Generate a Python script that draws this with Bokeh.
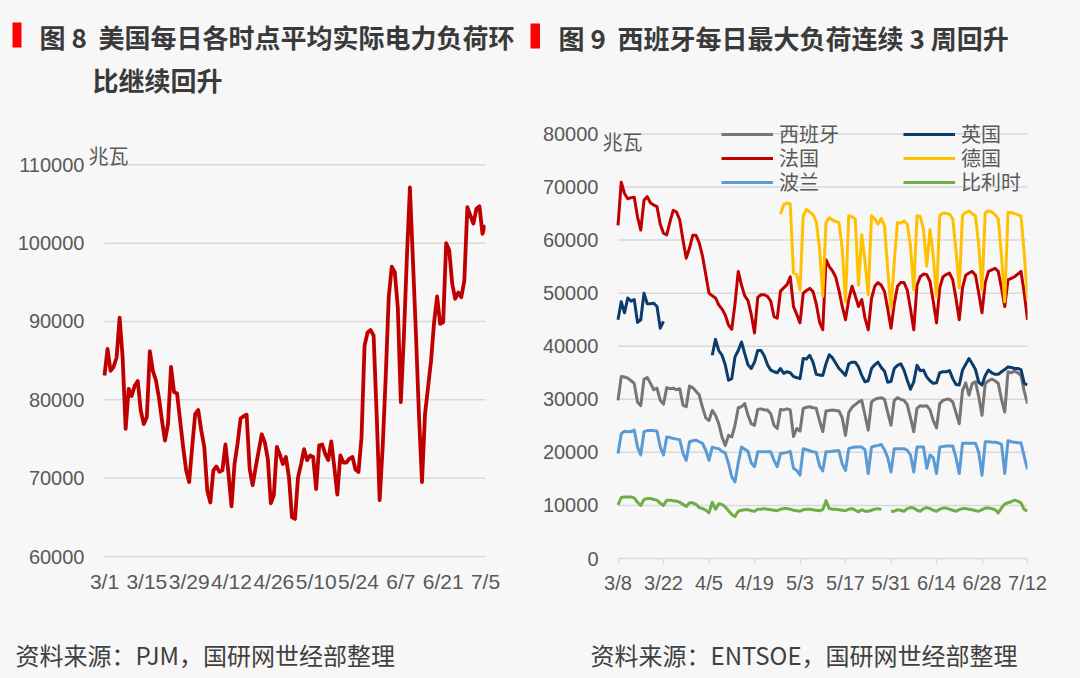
from bokeh.plotting import figure
from bokeh.layouts import row, column
from bokeh.models import (Range1d, FixedTicker, NumeralTickFormatter, Label,
                          BoxAnnotation, Legend, LegendItem)
from bokeh.embed import file_html
from bokeh.resources import INLINE

nan = float("nan")

# ---------------- data: figure 8 (PJM, daily average load, MW) ----------------
us_tick_days = [0, 14, 28, 42, 56, 70, 84, 98, 112, 126]
us_tick_labels = ["3/1", "3/15", "3/29", "4/12", "4/26", "5/10", "5/24", "6/7", "6/21", "7/5"]
us_yticks = [60000, 70000, 80000, 90000, 100000, 110000]
us_days = list(range(127))
us_load = [
    83100, 86500, 83700, 84200, 85400, 90500, 85400, 76300, 81400, 80500,
    81800, 82400, 78600, 76900, 77800, 86200, 83700, 82500, 80300, 77400,
    74800, 76900, 84200, 81000, 80800, 77400, 74000, 71000, 69500, 74000,
    78200, 78700, 76100, 74000, 68400, 66900, 71000, 71500, 70800, 71000,
    74300, 70600, 66400, 71800, 74400, 77600, 77900, 78100, 71200, 69100,
    71400, 73500, 75600, 74600, 72500, 66800, 67800, 74000, 73000, 71800,
    72700, 70100, 65000, 64800, 70100, 71800, 73700, 72300, 72900, 72700,
    68600, 74200, 74300, 73100, 72300, 74700, 71400, 67900, 72900, 72000,
    72000, 72500, 72700, 71100, 70800, 75200, 86900, 88600, 88900, 88200,
    78200, 67200, 74000, 82900, 93100, 97000, 96300, 91800, 79700, 88000,
    98200, 107100, 97800, 88400, 78000, 69500, 78200, 81600, 85000, 89900,
    93200, 89700, 89900, 100000, 99100, 94800, 92900, 93700, 93100, 95200,
    104600, 103500, 102500, 104400, 104700, 101200, 102300,
]

# ---------------- data: figure 9 (ENTSOE, daily maximum load, MW) ----------------
eu_tick_days = [0, 14, 28, 42, 56, 70, 84, 98, 112, 126]
eu_tick_labels = ["3/8", "3/22", "4/5", "4/19", "5/3", "5/17", "5/31", "6/14", "6/28", "7/12"]
eu_yticks = [0, 10000, 20000, 30000, 40000, 50000, 60000, 70000, 80000]
eu_days = list(range(127))
series_names = ["西班牙", "英国", "法国", "德国", "波兰", "比利时"]

spain = [
    29800, 34300, 34200, 34000, 33500, 33000, 29500,
    28800, 33800, 34100, 33000, 31800, 32100, 29800,
    29100, 32200, 32000, 32100, 31800, 32000, 28900,
    28600, 32500, 32200, 31500, 30800, 28500, 26500,
    26000, 27900, 27000, 25400, 22900, 21300, 23200,
    22900, 25100, 28400, 28600, 29200, 27000, 25400,
    25100, 28100, 28200, 28000, 28000, 27300, 25100,
    24500, 28100, 28000, 28200, 28000, 23000, 24500,
    24000, 28300, 28500, 28600, 28400, 28300, 26000,
    23900, 27800, 27900, 28000, 27900, 27800, 26500,
    23200, 27500, 28500, 29000, 29500, 29800, 27000,
    24200, 29500, 30000, 30200, 30300, 30000, 27500,
    25100, 29800, 30300, 30000, 29800, 29000, 26500,
    23900, 28300, 28800, 28700, 28800, 28000, 26000,
    24600, 29200, 29800, 30000, 30000, 29500, 27500,
    25400, 31700, 33100, 30800, 33000, 33300, 30500,
    27000, 33000, 33500, 33800, 33500, 33000, 30000,
    27600, 35200, 35000, 35300, 35000, 34500, 31500,
    29200,
]

uk = [
    45000, 48400, 46300, 49100, 48500, 48800, 44500,
    45000, 50000, 48000, 48000, 48100, 47500, 43400,
    44700, nan, nan, nan, nan, nan, nan,
    nan, nan, nan, nan, nan, nan, nan,
    nan, 38300, 41300, 39200, 38300, 36500, 33600,
    33900, 38000, 39200, 40800, 38600, 36500, 35800,
    37000, 39200, 39200, 38200, 36500, 35500, 35200,
    35000, 35800, 34900, 35200, 35000, 34300, 34100,
    33900, 37700, 37600, 38300, 37000, 34700, 34600,
    34500, 36700, 38400, 37800, 36800, 35800, 35200,
    34500, 36700, 37000, 37000, 36100, 34500, 33300,
    33500, 35800, 36500, 37000, 36000, 35300, 33200,
    33400, 35800, 36400, 36700, 35500, 33600, 31900,
    33300, 36400, 35400, 35500, 34200, 33500, 33000,
    33100, 35000, 35200, 35200, 35400, 33900, 32800,
    32700, 35500, 36600, 37700, 36700, 35600, 33200,
    32700, 34500, 35500, 35000, 34700, 34700, 35200,
    35600, 36100, 36000, 35800, 35800, 35600, 33000,
    32700,
]

france = [
    62800, 70900, 68800, 67800, 68000, 68100, 64400,
    61900, 67500, 68200, 67000, 66600, 66300, 63000,
    61300, 61000, 63500, 65600, 65300, 63800, 60000,
    56600, 58500, 60900, 60900, 59500, 57000, 53500,
    50000, 49500, 49100, 47800, 47000, 45900, 44000,
    43200, 48000, 54100, 51500, 49500, 48600, 46000,
    42500, 49200, 49700, 49700, 49400, 48500, 45600,
    45300, 50400, 51000, 51600, 53100, 47500, 46000,
    44400, 50000, 50500, 50900, 50300, 48000, 44600,
    43100, 56300, 55000, 54200, 53000, 50500, 47500,
    45000, 48800, 51300, 49500, 47500, 48800, 45300,
    43100, 49000, 51300, 52000, 51500, 50300, 47000,
    43400, 48000, 51300, 52000, 52000, 50600, 47000,
    43100, 51500, 53100, 53600, 53500, 52200, 48500,
    44400, 51000, 53100, 53500, 53800, 52500, 49000,
    45000, 51000, 53400, 53800, 54100, 53400, 50000,
    46300, 52000, 54100, 54400, 54700, 54100, 51000,
    47500, 52500, 52800, 53100, 53600, 54100, 50000,
    45000,
]

germany = [nan] * 50 + [
    64900, 66700, 67000, 66800, 53800, 53500, 50600,
    64600, 65800, 65300, 64800, 63500, 58500, 49400,
    63300, 64200, 63800, 63500, 63300, 58200, 48400,
    64600, 64400, 64000, 51500, 61000, 56000, 49700,
    64600, 64000, 63000, 64100, 62700, 54400, 47000,
    56000, 63300, 63200, 63600, 63000, 58900, 50600,
    64600, 64500, 62000, 55100, 62000, 57000, 49400,
    64600, 65100, 65000, 64900, 64000, 58000, 51000,
    64700, 65200, 65500, 65000, 64500, 59000, 50600,
    65200, 65500, 65300, 64800, 64000, 57000, 48400,
    65200, 65200, 65000, 64800, 64500, 57500, 48700,
]

poland = [
    19800, 23500, 24000, 23900, 23900, 24200, 21000,
    19500, 23900, 24100, 24100, 24100, 24000, 21000,
    19500, 22900, 22800, 22600, 22500, 22400, 19800,
    18500, 22000, 22200, 22300, 22000, 21700, 20400,
    18500, 21000, 20800, 20700, 20200, 19900, 17900,
    15400, 14400, 18000, 21000, 20600, 20200, 18000,
    17300, 20100, 20100, 20100, 20100, 20100, 18500,
    17300, 19800, 19900, 20000, 20200, 17000, 16600,
    15700, 20700, 20500, 20300, 20100, 20000, 17500,
    16500, 20100, 20100, 20200, 20300, 20300, 17800,
    16600, 20700, 20900, 21000, 21000, 21000, 20500,
    16000, 21000, 21200, 21300, 21500, 20500, 19000,
    16300, 20700, 20700, 20700, 20700, 20400, 19500,
    16300, 21000, 21000, 21000, 17000, 19500, 19000,
    16000, 21000, 21100, 21200, 21200, 21200, 19000,
    16000, 21700, 21700, 21700, 21700, 21700, 20000,
    15700, 22000, 22000, 21900, 21900, 21800, 21500,
    16000, 22200, 22000, 21900, 21800, 21800, 19200,
    16800,
]

belgium = [
    10100, 11500, 11600, 11600, 11600, 11400, 10600,
    10000, 11100, 11300, 11300, 11100, 11000, 10400,
    10000, 11000, 11000, 10900, 10800, 10600, 10200,
    9800, 10500, 10500, 10200, 9600, 9400, 9100,
    8600, 10600, 9300, 10300, 10200, 9700, 9000,
    8300, 7900, 8900, 9100, 9200, 9200, 9000,
    8900, 9300, 9300, 9400, 9300, 9200, 9100,
    9000, 9300, 9400, 9400, 9300, 9100, 9000,
    8900, 9200, 9300, 9300, 9200, 9100, 9000,
    9200, 10900, 9400, 9300, 9300, 9200, 9100,
    9000, 9300, 9400, 9100, 8800, 9200, 8900,
    8900, 9100, 9300, 9400, 9200, nan, nan,
    8900, 8900, 9200, 9100, 8900, 9400, 9600,
    9500, 9100, 8900, 9400, 9600, 9400, 9100,
    8900, 9300, 9500, 9500, 9300, 9100, 8900,
    9200, 9400, 9400, 9300, 9200, 9000, 8900,
    9200, 9500, 9500, 9400, 9200, 8600, 9500,
    10300, 10500, 10700, 11000, 10800, 10500, 9200,
    9000,
]

series_values = [spain, uk, france, germany, poland, belgium]
series_colors = ["#7A7474", "#0B3C6B", "#C00000", "#FFC000", "#5B9BD5", "#70AD47"]

# ---------------- styles ----------------
BG = "#F7F7F7"
GRID = "#D9D9D9"
AXIS_TXT = "#595959"
TITLE_TXT = "#3A3A3A"
SRC_TXT = "#404040"
CJK = "Noto Sans CJK SC"
NUM = "Liberation Sans"
NB = "\u00a0"


def add_label(p, x, y, text, size, color, bold=False, font=CJK):
    p.add_layout(Label(x=x, y=y, x_units="screen", y_units="screen", text=text,
                       text_font=font, text_font_size=size, text_color=color,
                       text_font_style="bold" if bold else "normal",
                       text_baseline="middle", text_align="left"))


def add_bar(p, left, right, top, bottom):
    p.add_layout(BoxAnnotation(left=left, right=right, top=top, bottom=bottom,
                               left_units="screen", right_units="screen",
                               top_units="screen", bottom_units="screen",
                               fill_color="#FF0000", fill_alpha=1.0,
                               line_color=None))


def blank_fig(w, h):
    f = figure(width=w, height=h, x_range=Range1d(0, w), y_range=Range1d(0, h),
               x_axis_type=None, y_axis_type=None, title=None,
               output_backend="svg", toolbar_location=None,
               min_border_left=0, min_border_right=0, min_border_top=0, min_border_bottom=0,
               background_fill_color=BG, border_fill_color=BG, outline_line_color=None)
    f.xgrid.visible = False
    f.ygrid.visible = False
    return f


def chart_fig(w, h, xr, yr, bl, br, bb):
    p = figure(width=w, height=h, x_range=xr, y_range=yr, title=None,
               output_backend="svg", toolbar_location=None,
               min_border_left=bl, min_border_right=br, min_border_top=0, min_border_bottom=bb,
               background_fill_color=BG, border_fill_color=BG, outline_line_color=None)
    p.xgrid.visible = False
    p.ygrid.visible = False
    return p


def style_axes(p, yticks, tick_days, tick_labels, tick_out, show_axis_line, x_standoff, x_size):
    p.yaxis.ticker = FixedTicker(ticks=yticks)
    p.yaxis.formatter = NumeralTickFormatter(format="0")
    p.yaxis.axis_line_color = None
    p.yaxis.major_tick_line_color = None
    p.yaxis.minor_tick_line_color = None
    p.yaxis.major_tick_out = 0
    p.yaxis.major_tick_in = 0
    p.yaxis.major_label_standoff = 2
    p.yaxis.major_label_text_font = NUM
    p.yaxis.major_label_text_font_size = "20px"
    p.yaxis.major_label_text_color = AXIS_TXT
    p.xaxis.ticker = FixedTicker(ticks=tick_days)
    p.xaxis.bounds = (tick_days[0], tick_days[-1])
    p.xaxis.major_label_overrides = {d: t for d, t in zip(tick_days, tick_labels)}
    p.xaxis.axis_line_color = GRID if show_axis_line else None
    p.xaxis.axis_line_width = 1.5
    p.xaxis.minor_tick_line_color = None
    if tick_out > 0:
        p.xaxis.major_tick_line_color = GRID
        p.xaxis.major_tick_line_width = 1.5
        p.xaxis.major_tick_out = tick_out
    else:
        p.xaxis.major_tick_line_color = None
        p.xaxis.major_tick_out = 0
    p.xaxis.major_tick_in = 0
    p.xaxis.major_label_standoff = x_standoff
    p.xaxis.major_label_text_font = NUM
    p.xaxis.major_label_text_font_size = x_size
    p.xaxis.major_label_text_color = AXIS_TXT


def grid_lines(p, days, yticks):
    n = len(yticks)
    p.segment(x0=[days[0]] * n, x1=[days[-1]] * n, y0=yticks, y1=yticks,
              line_color=GRID, line_width=1.5)


# ---------------- header (titles) ----------------
HEAD_H = 118
header = blank_fig(1080, HEAD_H)
add_bar(header, 12, 21, HEAD_H - 22, HEAD_H - 47)
add_label(header, 39, HEAD_H - 36, "图 8" + NB + NB + "美国每日各时点平均实际电力负荷环",
          "26px", TITLE_TXT, bold=True)
add_label(header, 92, HEAD_H - 79, "比继续回升", "26px", TITLE_TXT, bold=True)
add_bar(header, 530, 539.5, HEAD_H - 23, HEAD_H - 48)
add_label(header, 558, HEAD_H - 37, "图 9" + NB + NB + "西班牙每日最大负荷连续 3 周回升",
          "26px", TITLE_TXT, bold=True)

# ---------------- charts ----------------
CH_H = 492          # chart row: page y 118 .. 610, frame page y 118 .. 558
BOTTOM = 52

# left chart: frame page x 86..485, day 0 at page x 104
p1 = chart_fig(526, CH_H, Range1d(-5.95, 126), Range1d(59745, 115910), 86, 41, BOTTOM)
style_axes(p1, us_yticks, us_tick_days, us_tick_labels, 0, False, 11, "21px")
grid_lines(p1, us_days, us_yticks)
p1.line(us_days, us_load, line_color="#C00000", line_width=3.8, line_join="round")
add_label(p1, 2, 558 - 155, "兆瓦", "20px", AXIS_TXT)

# right chart: frame page x 600..1027, day 0 at page x 617.5
p2 = chart_fig(554, CH_H, Range1d(-5.385, 126), Range1d(0, 82920), 74, 53, BOTTOM)
style_axes(p2, eu_yticks, eu_tick_days, eu_tick_labels, 5, True, 8, "20px")
grid_lines(p2, eu_days, eu_yticks[1:])

rends = []
for vals, col in zip(series_values, series_colors):
    rends.append(p2.line(eu_days, vals, line_color=col, line_width=3, line_join="round"))

for r in range(3):
    lg = Legend(items=[LegendItem(label=series_names[2 * r + k], renderers=[rends[2 * r + k]])
                       for k in range(2)],
                location=(121, 410 - 24 * r), orientation="horizontal",
                background_fill_alpha=0, border_line_color=None, padding=0, margin=0,
                spacing=3, glyph_width=52, glyph_height=20, label_standoff=6,
                label_width=121, label_height=20, label_text_font=CJK,
                label_text_font_size="20px", label_text_color=AXIS_TXT,
                label_text_baseline="middle")
    p2.add_layout(lg)
add_label(p2, 2, 558 - 141, "兆瓦", "20px", AXIS_TXT)

# ---------------- footer (sources) ----------------
FOOT_H = 68
footer = blank_fig(1080, FOOT_H)
add_label(footer, 15, FOOT_H - 44, "资料来源：PJM，国研网世经部整理", "24px", SRC_TXT)
add_label(footer, 590, FOOT_H - 44, "资料来源：ENTSOE，国研网世经部整理", "24px", SRC_TXT)

layout = column(header, row(p1, p2, spacing=0), footer, spacing=0)
html = file_html(layout, INLINE, title="电力负荷")
html = html.replace("</head>", "<style>html,body{background:#F7F7F7;}</style></head>", 1)
open("out.html", "w").write(html)
